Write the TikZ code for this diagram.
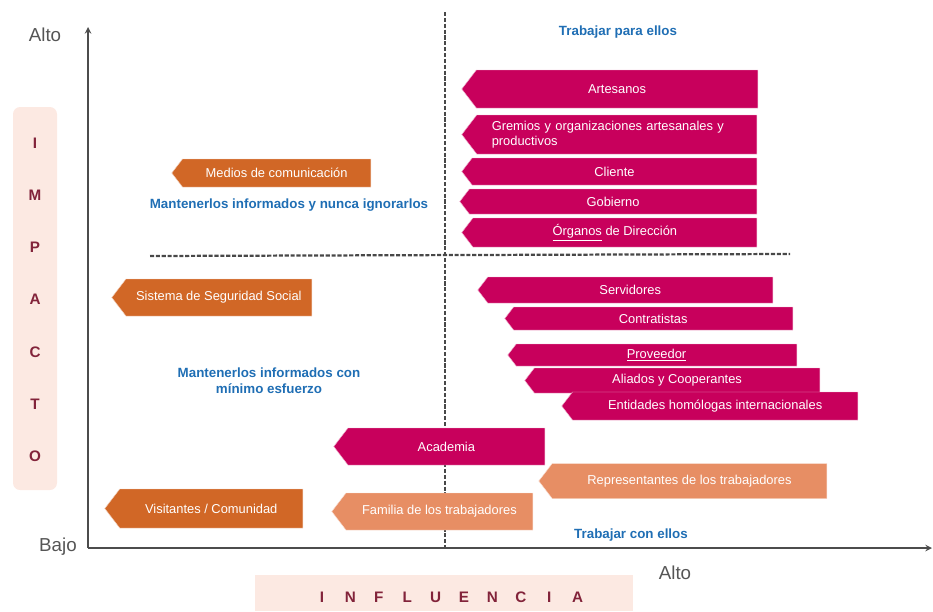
\documentclass[tikz,border=0pt]{standalone}
\usepackage{fontspec}
\setmainfont{Liberation Sans}
\usetikzlibrary{positioning, shapes.symbols, arrows}
\definecolor{magentaA}{RGB}{200,0,92}
\definecolor{naranjaA}{RGB}{209,103,38}
\definecolor{salmonA}{RGB}{231,142,100}
\definecolor{rosaA}{RGB}{252,233,226}
\definecolor{azulA}{RGB}{31,110,180}
\definecolor{granateA}{RGB}{130,35,58}
\definecolor{grisA}{RGB}{85,85,85}
\tikzset{
	actor/.style 2 args={signal, signal to=west, signal pointer angle=105, anchor=east, minimum width=#1*0.03cm, minimum height=#2*0.03cm, inner sep=1pt, text=white, font=\fontsize{11}{13}\selectfont},
	mag/.style 2 args={actor={#1}{#2}, fill=magentaA, draw=magentaA!30},
	nar/.style 2 args={actor={#1}{#2}, fill=naranjaA, draw=naranjaA!30},
	sal/.style 2 args={actor={#1}{#2}, fill=salmonA, draw=salmonA!30},
	cuadrante/.style={text=azulA, font=\bfseries\fontsize{11.4}{14}\selectfont, align=center},
	nivel/.style={text=grisA, font=\fontsize{16}{18}\selectfont},
	letra/.style={text=granateA, font=\bfseries\fontsize{13}{15}\selectfont},
	corte/.style={grisA!85!black, line width=1.9pt, dash pattern=on 3.5pt off 1.5pt}
}

\begin{document}
\begin{tikzpicture}[x=0.03cm, y=-0.03cm]
		\useasboundingbox (0,0) rectangle (933,611);
		% bandas de los ejes
		\fill[rosaA, rounded corners=6] (13,107) rectangle (57,490);
		\fill[rosaA] (255,575) rectangle (633,611);
		\foreach \l [count=\i from 0] in {I,M,P,A,C,T,O}
			\node[letra] (imp\i) at (35,143+\i*52.2) {\l};
		\foreach \l [count=\i from 0] in {I,N,F,L,U,E,N,C,I,A}
			\node[letra] (inf\i) at (322+\i*28.4,597) {\l};
		% ejes y cuadrantes
		\coordinate (origen) at (88,548);
		\coordinate (ytope) at (88,27);
		\coordinate (xfin) at (932,548);
		\coordinate (vtope) at (445,12);
		\coordinate (vbase) at (445,548);
		\coordinate (hizq) at (150,256);
		\coordinate (hder) at (790,254);
		\draw[corte] (vtope) -- (vbase);
		\draw[corte] (hizq) -- (hder);
		\draw[grisA!90!black, line width=1.5pt, -stealth] (origen) -- (ytope);
		\draw[grisA!90!black, line width=1.5pt, -stealth] (origen) -- (xfin);
		\node[nivel] (altoy) at (45,35) {Alto};
		\node[nivel] (bajo) at (58,547) {Bajo};
		\node[nivel] (altox) at (675,573) {Alto};
		% textos de los cuadrantes
		\node[cuadrante] (para) at (618,32) {Trabajar para ellos};
		\node[cuadrante] (nunca) at (289,205) {Mantenerlos informados y nunca ignorarlos};
		\node[cuadrante] (minimo) at (269,381) {Mantenerlos informados con\\mínimo esfuerzo};
		\node[cuadrante] (con) at (631,535) {Trabajar con ellos};
		% partes interesadas
		\node[mag={296}{38}] (artesanos) at (758,89) {Artesanos};
		\node[mag={295}{39}, align=left, text width=7.5cm] (gremios) at (757,134.5) {Gremios y organizaciones artesanales y\\productivos};
		\node[mag={295}{27}] (cliente) at (757,171.5) {Cliente};
		\node[mag={297}{25}] (gobierno) at (757,201.5) {Gobierno};
		\node[mag={295}{29}] (organos) at (757,232.5) {\underline{Órganos} de Dirección};
		\node[mag={295}{26}] (servidores) at (773,290) {Servidores};
		\node[mag={288}{23}] (contratistas) at (793,318.5) {Contratistas};
		\node[mag={289}{22}] (proveedor) at (797,355) {\underline{Proveedor}};
		\node[mag={295}{25}] (aliados) at (820,380.5) {Aliados y Cooperantes};
		\node[mag={296}{28}] (entidades) at (858,406) {Entidades homólogas internacionales};
		\node[mag={211}{37}] (academia) at (545,446.5) {Academia};
		\node[sal={288}{35}] (representantes) at (827,481) {Representantes de los trabajadores};
		\node[sal={201}{37}] (familia) at (533,511.5) {Familia de los trabajadores};
		\node[nar={199}{28}] (medios) at (371,173) {Medios de comunicación};
		\node[nar={200}{37}] (sistema) at (312,297.5) {Sistema de Seguridad Social};
		\node[nar={198}{39}] (visitantes) at (303,508.5) {Visitantes / Comunidad};
	\end{tikzpicture}
\end{document}
